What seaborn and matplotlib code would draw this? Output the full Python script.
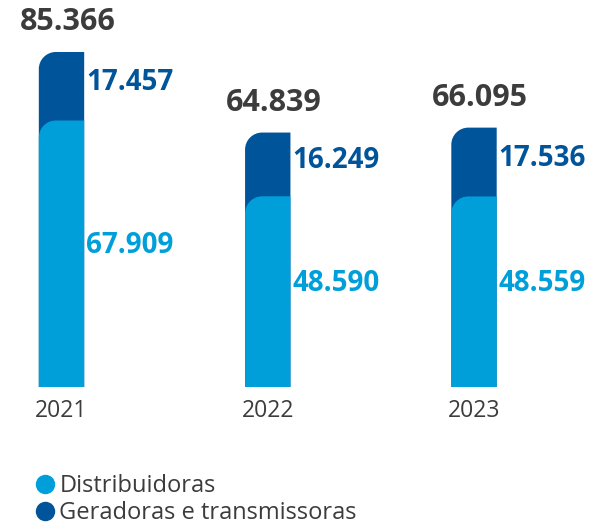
import seaborn as sns
import matplotlib.pyplot as plt
import pandas as pd
from matplotlib.path import Path
from matplotlib.patches import PathPatch
from matplotlib.lines import Line2D

anos = ['2021', '2022', '2023']
distribuidoras = [67909, 48590, 48559]
geradoras = [17457, 16249, 17536]
totais = [85366, 64839, 66095]
rotulos_dist = ['67.909', '48.590', '48.559']
rotulos_ger = ['17.457', '16.249', '17.536']
rotulos_tot = ['85.366', '64.839', '66.095']

azul_claro = '#009fda'
azul_escuro = '#00549a'
cinza = '#3c3c3c'

df = pd.DataFrame({'ano': anos, 'dist': distribuidoras, 'total': totais})

sns.set_style('white')
plt.rcParams['font.family'] = ['Open Sans', 'DejaVu Sans']

W, H = 597, 526
fig = plt.figure(figsize=(W / 100, H / 100), dpi=100)
ax = fig.add_axes([0, 0, 1, 1])

# pixel geometry: bar centres at 61.5 px apart by 206.25 px, base at 139 px from bottom
px_x = 206.25
px_y = 335 / 85366
xmin = -61.5 / px_x
ymin = -139 / px_y

sns.barplot(data=df, x='ano', y='total', color=azul_escuro, saturation=1, width=0.22, ax=ax)
sns.barplot(data=df, x='ano', y='dist', color=azul_claro, saturation=1, width=0.22, ax=ax)

ax.set_xlim(xmin, xmin + W / px_x)
ax.set_ylim(ymin, ymin + H / px_y)
ax.axis('off')

# rounded top-left corner
r = 17
rx, ry = r / px_x, r / px_y
k = 0.5523
for p in list(ax.patches):
    x0, y0 = p.get_x(), p.get_y()
    w, h = p.get_width(), p.get_height()
    x1, y1 = x0 + w, y0 + h
    verts = [(x0, y0), (x1, y0), (x1, y1), (x0 + rx, y1),
             (x0 + rx * (1 - k), y1), (x0, y1 - ry * (1 - k)), (x0, y1 - ry),
             (x0, y0)]
    codes = [Path.MOVETO, Path.LINETO, Path.LINETO, Path.LINETO,
             Path.CURVE4, Path.CURVE4, Path.CURVE4, Path.CLOSEPOLY]
    ax.add_patch(PathPatch(Path(verts, codes), facecolor=p.get_facecolor(),
                           edgecolor='none', zorder=p.get_zorder()))
    p.set_visible(False)

meia = 0.11
for i in range(3):
    ax.annotate(rotulos_tot[i], (i, totais[i]), xytext=(6, 15), textcoords='offset pixels',
                ha='center', va='bottom', fontsize=22, fontweight='bold', color=cinza)
    ax.annotate(rotulos_ger[i], (i + meia, distribuidoras[i] + geradoras[i] / 2),
                xytext=(2, 4), textcoords='offset pixels',
                ha='left', va='center', fontsize=20, fontweight='bold', color=azul_escuro)
    ax.annotate(rotulos_dist[i], (i + meia, distribuidoras[i] / 2),
                xytext=(2, 8), textcoords='offset pixels',
                ha='left', va='center', fontsize=20, fontweight='bold', color=azul_claro)
    ax.annotate(anos[i], (i, 0), xytext=(0, -24), textcoords='offset pixels',
                ha='center', va='center', fontsize=16.5, color=cinza)

handles = [Line2D([], [], marker='o', linestyle='none', markersize=14,
                  markerfacecolor=c, markeredgecolor='none') for c in (azul_claro, azul_escuro)]
fig.legend(handles, ['Distribuidoras', 'Geradoras e transmissoras'],
           loc='upper left', bbox_to_anchor=(24 / W, 1 - 465 / H), frameon=False,
           fontsize=17, handletextpad=0.1, labelspacing=0.12, borderaxespad=0,
           handlelength=1.0, labelcolor=cinza)

fig.savefig('out.png', dpi=100)
